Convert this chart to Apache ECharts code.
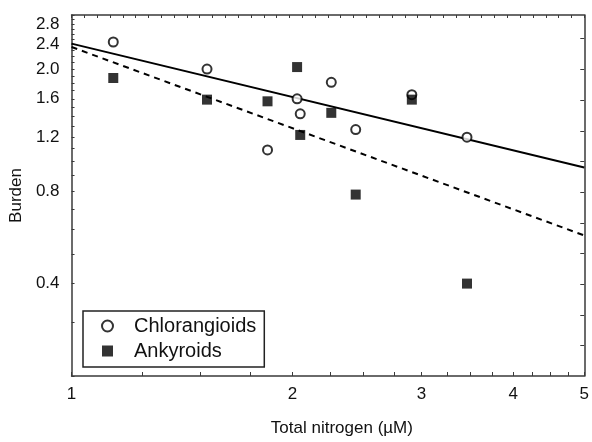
<!DOCTYPE html>
<html>
<head>
<meta charset="utf-8">
<script src="https://cdn.jsdelivr.net/npm/echarts@6/dist/echarts.min.js"></script>
<style>
  html, body { margin: 0; padding: 0; background: #fff; }
  #chart { width: 592px; height: 442px; }
</style>
</head>
<body>
<div id="chart"></div>
<script>
// values
var nitrogenC = [1.14, 1.53, 1.85, 2.03, 2.05, 2.26, 2.44, 2.91, 3.46];
var burdenC = [2.45, 2.00, 1.09, 1.60, 1.43, 1.81, 1.27, 1.65, 1.20];
var nitrogenA = [1.14, 1.53, 1.85, 2.03, 2.05, 2.26, 2.44, 2.91, 3.46];
var burdenA = [1.87, 1.59, 1.57, 2.03, 1.22, 1.44, 0.78, 1.59, 0.40];
// regression lines (ends at x = 1 and x = 5)
var fitX = [1, 5];
var fitC = [2.42, 0.955];
var fitA = [2.36, 0.574];
// tick labels
var xLabels = [1, 2, 3, 4, 5];
var yLabels = [0.4, 0.8, 1.2, 1.6, 2.0, 2.4, 2.8];

var FONT = "'Liberation Sans', Arial, sans-serif";
var AXIS_COLOR = '#3a3a3a';

function pairs(xs, ys) {
  var out = [];
  for (var i = 0; i < xs.length; i++) {
    out.push([xs[i], ys[i]]);
  }
  return out;
}

// minor ticks
var xTicks = [];
for (var i = 0; i <= 16; i++) xTicks.push(1 + i * 0.25);
var yTicks = [];
for (var j = 2; j <= 30; j++) yTicks.push(j / 10);
var rightTicks = [];
for (var k = -7; k <= 4; k++) rightTicks.push(Math.pow(10, k / 10));

var lineAxis = {show: true, onZero: false, lineStyle: {color: AXIS_COLOR, width: 1.5}};

var option = {
  animation: false,
  backgroundColor: '#fff',
  textStyle: {fontFamily: FONT},
  grid: {left: 71, right: 5, top: 15, bottom: 62},
  legend: {
    left: 83,
    top: 311,
    orient: 'vertical',
    data: [
      {name: 'Chlorangioids', icon: 'emptyCircle', itemStyle: {borderWidth: 2.2}},
      {name: 'Ankyroids', icon: 'rect'}
    ],
    itemWidth: 11,
    itemHeight: 11,
    itemGap: 5,
    padding: [5, 8, 6, 18],
    borderColor: '#222',
    borderWidth: 1.5,
    borderRadius: 0,
    textStyle: {fontSize: 20, color: '#111', fontFamily: FONT, padding: [0, 0, 0, 16]}
  },
  xAxis: [{
    type: 'log',
    min: 1,
    max: 5,
    name: 'Total nitrogen (\u00b5M)',
    nameLocation: 'middle',
    nameGap: 44,
    nameTextStyle: {fontSize: 17, color: '#111', padding: [0, 0, 0, 28]},
    axisLine: lineAxis,
    axisTick: {inside: true, length: 4, customValues: xTicks, lineStyle: {color: AXIS_COLOR}},
    axisLabel: {customValues: xLabels, fontSize: 17, color: '#111', margin: 10,
      formatter: function (v) { return String(Math.round(v)); }},
    splitLine: {show: false},
    minorTick: {show: false}
  }, {
    type: 'value',
    position: 'top',
    min: 0,
    max: 40,
    interval: 1,
    axisLine: lineAxis,
    axisTick: {inside: true, length: 3, lineStyle: {color: AXIS_COLOR}},
    axisLabel: {show: false},
    splitLine: {show: false}
  }],
  yAxis: [{
    type: 'log',
    min: 0.2,
    max: 3.0,
    name: 'Burden',
    nameLocation: 'middle',
    nameGap: 45,
    nameTextStyle: {fontSize: 17, color: '#111'},
    axisLine: lineAxis,
    axisTick: {inside: true, length: 3, customValues: yTicks, lineStyle: {color: AXIS_COLOR}},
    axisLabel: {customValues: yLabels, fontSize: 17, color: '#111', margin: 12,
      formatter: function (v) { return (Math.round(v * 10) / 10).toFixed(1); }},
    splitLine: {show: false},
    minorTick: {show: false}
  }, {
    type: 'log',
    position: 'right',
    min: 0.2,
    max: 3.0,
    axisLine: lineAxis,
    axisTick: {inside: true, length: 4, customValues: rightTicks, lineStyle: {color: AXIS_COLOR}},
    axisLabel: {show: false},
    splitLine: {show: false}
  }],
  series: [{
    name: 'Chlorangioids',
    type: 'scatter',
    z: 5,
    symbol: 'emptyCircle',
    symbolSize: 9,
    itemStyle: {color: '#000', borderColor: '#000', borderWidth: 1.6},
    data: pairs(nitrogenC, burdenC)
  }, {
    name: 'Ankyroids',
    type: 'scatter',
    z: 5,
    symbol: 'rect',
    symbolSize: 10,
    itemStyle: {color: '#000'},
    data: pairs(nitrogenA, burdenA)
  }, {
    name: 'Chlorangioids fit',
    type: 'line',
    z: 3,
    symbol: 'none',
    silent: true,
    lineStyle: {color: '#000', width: 2, type: 'solid'},
    data: pairs(fitX, fitC)
  }, {
    name: 'Ankyroids fit',
    type: 'line',
    z: 3,
    symbol: 'none',
    silent: true,
    lineStyle: {color: '#000', width: 2, type: [6, 5]},
    data: pairs(fitX, fitA)
  }]
};

var chart = echarts.init(document.getElementById('chart'), null, {renderer: 'canvas'});
chart.setOption(option);
</script>
</body>
</html>
